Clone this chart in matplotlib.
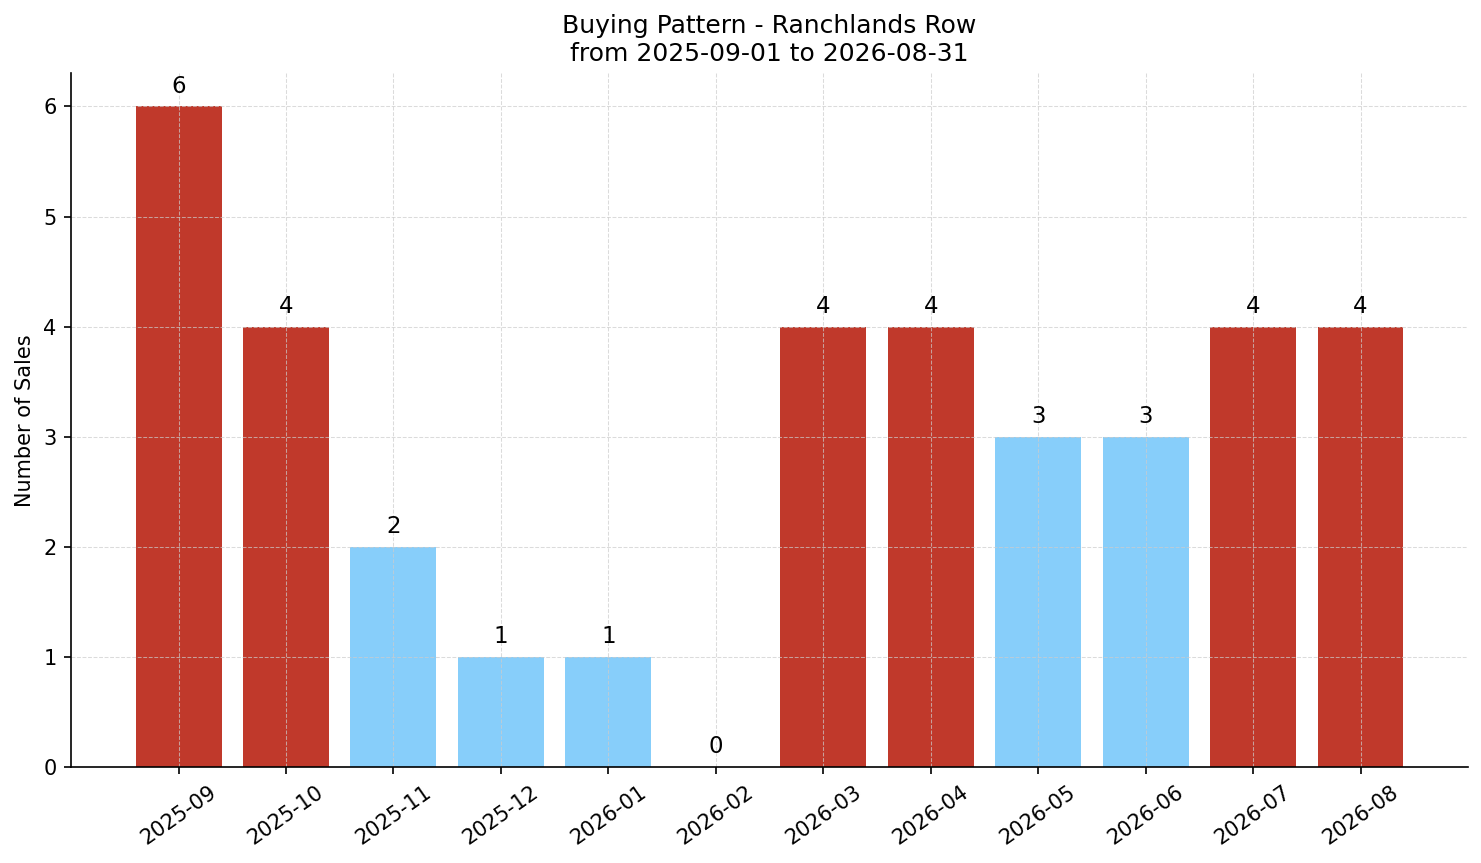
import matplotlib
matplotlib.use('Agg')
import matplotlib.pyplot as plt
import numpy as np

months = ['2025-09', '2025-10', '2025-11', '2025-12', '2026-01', '2026-02',
          '2026-03', '2026-04', '2026-05', '2026-06', '2026-07', '2026-08']
sales = [6, 4, 2, 1, 1, 0, 4, 4, 3, 3, 4, 4]

title = 'Buying Pattern - Ranchlands Row\nfrom 2025-09-01 to 2026-08-31'

# months above the average get the red colour
avg = np.mean(sales)
colors = ['#C0392B' if v > avg else '#87CEFA' for v in sales]

fig, ax = plt.subplots(figsize=(1481 / 150, 863 / 150), dpi=150)
fig.subplots_adjust(left=0.048, right=0.9912, top=0.915, bottom=0.111)

x = np.arange(len(months))
bars = ax.bar(x, sales, color=colors, width=0.8)

for bar, v in zip(bars, sales):
    ax.text(bar.get_x() + bar.get_width() / 2, v + 0.08, str(v),
            ha='center', va='bottom', fontsize=11)

ax.set_xticks(x)
ax.set_xticklabels(months, rotation=35)
ax.set_xlim(-1, 12)
ax.set_ylim(0, 6.3)
ax.set_ylabel('Number of Sales')
ax.set_title(title, fontsize=12)

ax.grid(True, linestyle='--', linewidth=0.5, color='#cccccc', alpha=0.7)
ax.spines['top'].set_visible(False)
ax.spines['right'].set_visible(False)

fig.savefig('out.png', dpi=150)
